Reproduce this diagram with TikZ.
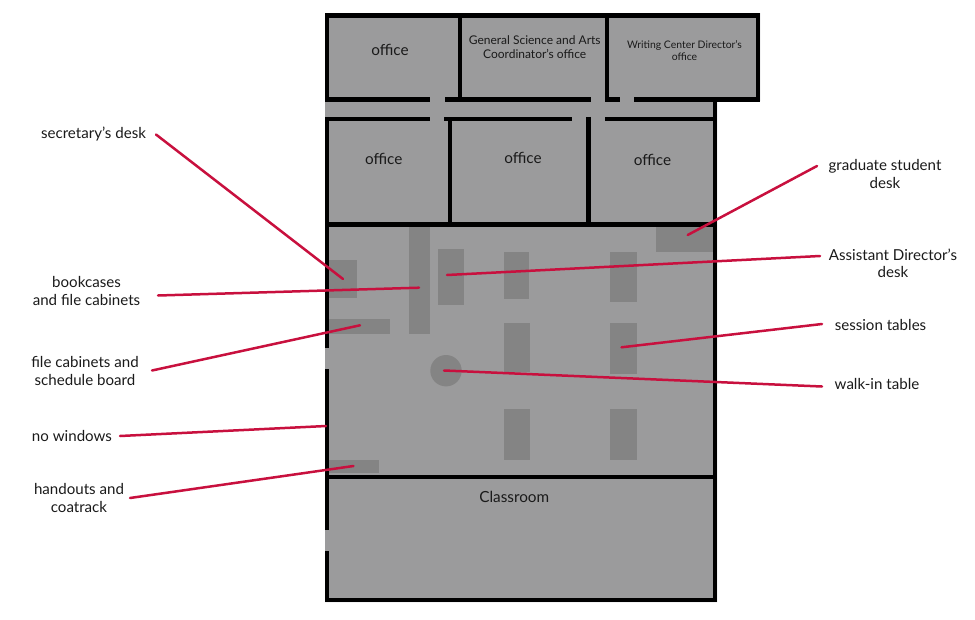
\documentclass[tikz,border=0pt]{standalone}
\usepackage{fontspec}
\setmainfont{Lato}
\definecolor{floorgray}{HTML}{9B9B9C}
\definecolor{furn}{HTML}{848484}
\definecolor{leader}{HTML}{C8103E}
\definecolor{ink}{HTML}{1A1A1A}
\tikzset{
  wall/.style={line width=4.8pt,black,line cap=butt},
  furniture/.style={fill=furn,draw=none},
  leaderline/.style={line width=2.5pt,leader,line cap=round},
  lbl/.style={inner sep=0pt,text=ink,font=\fontsize{15.1}{17.5}\selectfont,align=center},
  roomlbl/.style={inner sep=0pt,text=ink,font=\fontsize{15.3}{17}\selectfont,align=center},
  smalllbl/.style={inner sep=0pt,text=ink,font=\fontsize{12}{14}\selectfont,align=center},
  tinylbl/.style={inner sep=0pt,text=ink,font=\fontsize{10.4}{12.5}\selectfont,align=center},
}
\begin{document}
\begin{tikzpicture}[x=1pt,y=-1pt]
\useasboundingbox (0,0) rectangle (975,619);
% floor
\fill[floorgray] (325,13) -- (760,13) -- (760,101) -- (717,101) -- (717,602) -- (325,602) -- cycle;
% furniture
\fill[furniture] (329,260) rectangle (356.7,297.7);
\fill[furniture] (408.7,227) rectangle (430,333.7);
\fill[furniture] (438.3,249) rectangle (464.3,304.5);
\fill[furniture] (504,251.7) rectangle (529,299.3);
\fill[furniture] (610,251.7) rectangle (636.7,301.7);
\fill[furniture] (503.7,323) rectangle (530,372.3);
\fill[furniture] (610,323) rectangle (636.7,374);
\fill[furniture] (503.7,409) rectangle (530,459.5);
\fill[furniture] (610,409) rectangle (636.7,459.5);
\fill[furniture] (656.3,226.5) rectangle (713,251.7);
\fill[furniture] (329,318.7) rectangle (390,333.7);
\fill[furniture] (329,460) rectangle (379,473);
\fill[furniture] (446,370.7) circle (15.7);
% walls
\draw[wall] (325,15.3) -- (760,15.3);
\draw[wall] (327,13) -- (327,101.5);
\draw[wall] (758,13) -- (758,101.5);
\draw[wall] (460,15) -- (460,99);
\draw[wall] (607,15) -- (607,99);
\draw[wall] (325,99.3) -- (430,99.3);
\draw[wall] (445,99.3) -- (590.7,99.3);
\draw[wall] (605,99.3) -- (619.5,99.3);
\draw[wall] (634,99.3) -- (760,99.3);
\draw[wall] (325,119) -- (430,119);
\draw[wall] (444.3,119) -- (571.7,119);
\draw[wall] (605,119) -- (717,119);
\draw[wall] (327,116.8) -- (327,348.3);
\draw[wall] (327,369) -- (327,530);
\draw[wall] (327,551) -- (327,602);
\draw[wall] (715,97) -- (715,602);
\draw[wall] (450,119) -- (450,224);
\draw[wall] (588.3,116.8) -- (588.3,224);
\draw[wall] (325,224.2) -- (717,224.2);
\draw[wall] (325,477) -- (717,477);
\draw[wall] (325,600) -- (717,600);
% room labels
\node[roomlbl] (r1) at (390,49.5) {office};
\node[smalllbl] (r2) at (534.7,47) {General Science and Arts\\Coordinator’s office};
\node[tinylbl] (r3) at (684.5,50.5) {Writing Center Director’s\\office};
\node[roomlbl] (r4) at (383.8,158.5) {office};
\node[roomlbl] (r5) at (523,157.5) {office};
\node[roomlbl] (r6) at (652.5,159.5) {office};
\node[roomlbl] (r7) at (514.3,497) {Classroom};
% callout labels
\node[lbl] (l1) at (93.5,134.5) {secretary’s desk};
\node[lbl] (l2) at (86.5,291) {bookcases\\and file cabinets};
\node[lbl] (l3) at (85,371) {file cabinets and\\schedule board};
\node[lbl] (l4) at (72,435.5) {no windows};
\node[lbl] (l5) at (79,498) {handouts and\\coatrack};
\node[lbl] (l6) at (885,174) {graduate student\\desk};
\node[lbl] (l7) at (893,263.5) {Assistant Director’s\\desk};
\node[lbl] (l8) at (880.5,324.5) {session tables};
\node[lbl] (l9) at (877,384) {walk-in table};
% leader ends
\coordinate (s1) at (156,134.5); \coordinate (e1) at (343,279);
\coordinate (s2) at (158,295.5); \coordinate (e2) at (419,287.7);
\coordinate (s3) at (152,370.5); \coordinate (e3) at (360,325.3);
\coordinate (s4) at (120,436);   \coordinate (e4) at (326,426);
\coordinate (s5) at (130,498);   \coordinate (e5) at (353.5,466);
\coordinate (s6) at (817,166);   \coordinate (e6) at (687.7,235);
\coordinate (s7) at (820,256);   \coordinate (e7) at (447,275);
\coordinate (s8) at (822,324);   \coordinate (e8) at (621.5,347.3);
\coordinate (s9) at (822,386.5); \coordinate (e9) at (444,370.5);
\foreach \i in {1,...,9} \draw[leaderline] (s\i) -- (e\i);
\end{tikzpicture}
\end{document}
